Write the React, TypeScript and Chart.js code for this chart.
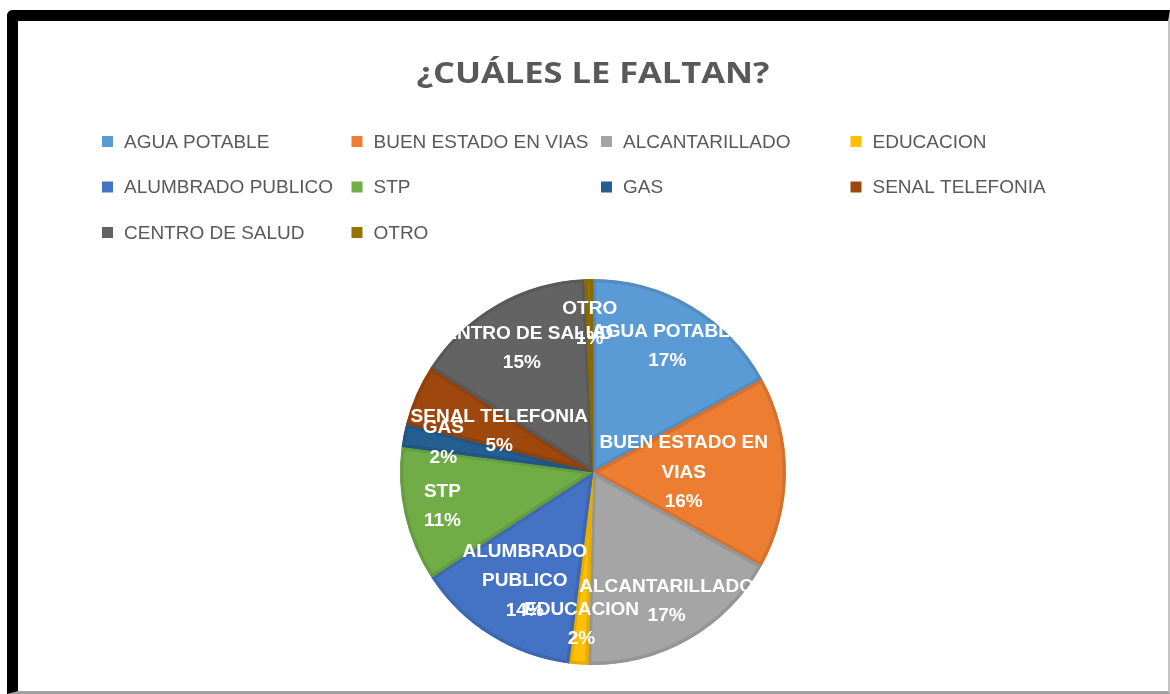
import React, { useEffect, useRef } from "react";
import { Chart, registerables } from "chart.js";

Chart.register(...registerables);

// ---- data ----
const categories: string[] = [
  "AGUA POTABLE",
  "BUEN ESTADO EN VIAS",
  "ALCANTARILLADO",
  "EDUCACION",
  "ALUMBRADO PUBLICO",
  "STP",
  "GAS",
  "SENAL TELEFONIA",
  "CENTRO DE SALUD",
  "OTRO",
];
const values: number[] = [17.0, 16.1, 17.3, 1.6, 13.8, 11.3, 1.9, 5.1, 15.2, 0.7];
const titleText = "¿CUÁLES LE FALTAN?";

// ---- style ----
const colors: string[] = [
  "#5B9BD5",
  "#ED7D31",
  "#A5A5A5",
  "#FFC000",
  "#4472C4",
  "#70AD47",
  "#255E91",
  "#9E480E",
  "#636363",
  "#997300",
];
const labelWrap: Record<string, string[]> = {
  "BUEN ESTADO EN VIAS": ["BUEN ESTADO EN", "VIAS"],
  "ALUMBRADO PUBLICO": ["ALUMBRADO", "PUBLICO"],
};
const labelRadius: number[] = [0.756, 0.47, 0.77, 0.79, 0.666, 0.8, 0.79, 0.53, 0.74, 0.767];

function shade(hex: string, f: number): string {
  const n = parseInt(hex.slice(1), 16);
  const r = Math.round(((n >> 16) & 255) * f);
  const g = Math.round(((n >> 8) & 255) * f);
  const b = Math.round((n & 255) * f);
  return `rgb(${r},${g},${b})`;
}

const TEXT_GRAY = "#595959";

const decorPlugin = {
  id: "decor",
  afterDatasetsDraw(chart: any) {
    const ctx = chart.ctx as CanvasRenderingContext2D;
    const meta = chart.getDatasetMeta(0);
    const data = chart.data.datasets[0].data as number[];
    const total = data.reduce((a, b) => a + b, 0);
    ctx.save();
    ctx.fillStyle = "#ffffff";
    ctx.font = 'bold 19px "Liberation Sans", Arial, sans-serif';
    ctx.textAlign = "center";
    ctx.textBaseline = "middle";
    const lh = 29.5;
    meta.data.forEach((arc: any, i: number) => {
      const p = arc.getProps(["x", "y", "startAngle", "endAngle", "outerRadius"], true);
      const mid = (p.startAngle + p.endAngle) / 2;
      const r = p.outerRadius * labelRadius[i];
      const cx = p.x + Math.cos(mid) * r;
      const cy = p.y + Math.sin(mid) * r;
      const name = chart.data.labels[i] as string;
      const lines = [...(labelWrap[name] || [name]), Math.round((data[i] / total) * 100) + "%"];
      const y0 = cy - ((lines.length - 1) * lh) / 2;
      lines.forEach((t, k) => ctx.fillText(t, cx, y0 + k * lh));
    });
    ctx.restore();
  },
  afterDraw(chart: any) {
    const ctx = chart.ctx as CanvasRenderingContext2D;
    ctx.save();
    // title (horizontally stretched like the reference)
    ctx.fillStyle = TEXT_GRAY;
    ctx.font = 'bold 28px "Open Sans", sans-serif';
    ctx.textBaseline = "alphabetic";
    ctx.textAlign = "center";
    const targetW = 353;
    const w0 = ctx.measureText(titleText).width;
    ctx.save();
    ctx.translate(chart.width / 2, 62);
    ctx.scale(targetW / w0, 1);
    ctx.fillText(titleText, 0, 0);
    ctx.restore();

    // legend (4-column grid)
    const labels = chart.data.labels as string[];
    const bg = chart.data.datasets[0].backgroundColor as string[];
    const x0 = 84;
    const colW = 249.5;
    const y0 = 120.5;
    const rowH = 45.5;
    const box = 11;
    ctx.font = '19px "Liberation Sans", Arial, sans-serif';
    ctx.textBaseline = "middle";
    ctx.textAlign = "left";
    labels.forEach((lab, i) => {
      const col = i % 4;
      const row = Math.floor(i / 4);
      const bx = x0 + col * colW;
      const cy = y0 + row * rowH;
      ctx.fillStyle = bg[i];
      ctx.fillRect(bx, cy - box / 2, box, box);
      ctx.fillStyle = TEXT_GRAY;
      ctx.fillText(lab, bx + 22, cy + 1);
    });
    ctx.restore();
  },
};

export default function App() {
  const ref = useRef<HTMLCanvasElement | null>(null);
  useEffect(() => {
    if (!ref.current) return;
    const chart = new Chart(ref.current, {
      type: "pie",
      data: {
        labels: categories,
        datasets: [
          {
            data: values,
            backgroundColor: colors,
            borderColor: colors.map((c) => shade(c, 0.9)),
            borderWidth: 3,
            borderAlign: "inner",
            hoverOffset: 0,
          } as any,
        ],
      },
      options: {
        animation: false,
        responsive: false,
        devicePixelRatio: 1,
        layout: { padding: { top: 258, bottom: 26, left: 0, right: 0 } },
        plugins: {
          legend: { display: false },
          title: { display: false },
          tooltip: { enabled: false },
        },
        events: [],
      },
      plugins: [decorPlugin],
    });
    return () => chart.destroy();
  }, []);

  return (
    <div
      style={{
        position: "fixed",
        left: 7,
        top: 10,
        width: 1163,
        height: 684,
        boxSizing: "border-box",
        borderLeft: "11px solid #000",
        borderTop: "11px solid #000",
        borderRight: "2px solid #c4c4c4",
        borderBottom: "3px solid #a0a0a0",
        borderTopLeftRadius: 6,
        background: "#fff",
        overflow: "hidden",
      }}
    >
      <canvas ref={ref} width={1150} height={670} style={{ display: "block", width: 1150, height: 670 }} />
    </div>
  );
}
